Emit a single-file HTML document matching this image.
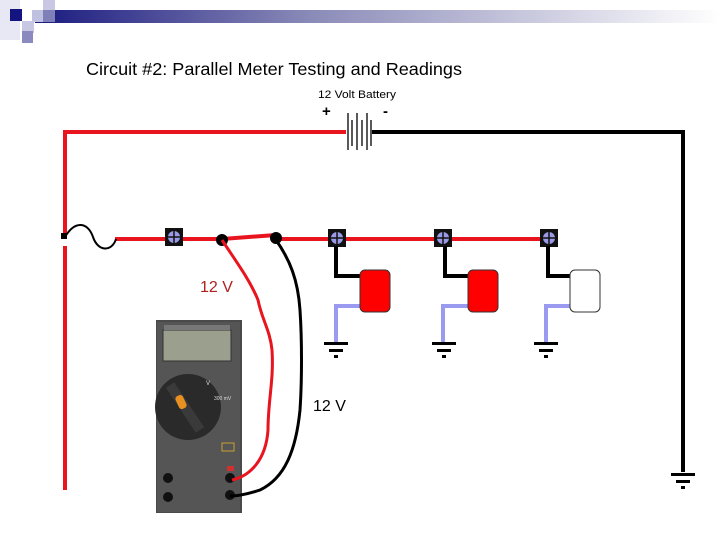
<!DOCTYPE html>
<html><head><style>
html,body{margin:0;padding:0;background:#fff;width:720px;height:540px;overflow:hidden}
</style></head><body>
<svg width="720" height="540" viewBox="0 0 720 540" xmlns="http://www.w3.org/2000/svg">
<defs>
<linearGradient id="g" x1="0" x2="1" y1="0" y2="0">
<stop offset="0" stop-color="#1a1a80"/><stop offset="0.4" stop-color="#8a8ab8"/><stop offset="1" stop-color="#ffffff"/>
</linearGradient>
<g id="term"><rect x="-9" y="-9" width="18" height="18" fill="#111"/><circle r="6" fill="#9a9ae8"/><path d="M-6 0H6M0 -6V6" stroke="#111" stroke-width="1.5"/></g>
<g id="gnd" fill="#000"><rect x="-12" y="-2" width="24" height="3"/><rect x="-7" y="5" width="14" height="3"/><rect x="-2" y="11" width="4" height="3"/></g>
</defs>
<!-- header -->
<rect x="35" y="10" width="685" height="13" fill="url(#g)"/>
<rect x="0" y="0" width="20" height="40" fill="#e8e8f4"/>
<rect x="10" y="9" width="12" height="12" fill="#141480"/>
<rect x="32" y="10" width="12" height="12" fill="#c0c0e0"/>
<rect x="43" y="0" width="12" height="10" fill="#c8c8e4"/>
<rect x="43" y="10" width="12" height="12" fill="#8080b8"/>
<rect x="22" y="21" width="12" height="12" fill="#c8c8e4"/>
<rect x="22" y="31" width="11" height="12" fill="#8a8ac0"/>
<text x="86" y="75" font-family="Liberation Sans, sans-serif" font-size="17.6" fill="#000" textLength="376" lengthAdjust="spacingAndGlyphs">Circuit #2: Parallel Meter Testing and Readings</text>
<text x="318" y="98" font-family="Liberation Sans, sans-serif" font-size="11" fill="#000" textLength="78" lengthAdjust="spacingAndGlyphs">12 Volt Battery</text>
<text x="322" y="116" font-family="Liberation Sans, sans-serif" font-size="15" font-weight="bold">+</text>
<text x="383" y="116" font-family="Liberation Sans, sans-serif" font-size="15" font-weight="bold">-</text>
<!-- main wires -->
<path d="M65 490V132H346" stroke="#e8141e" stroke-width="4" fill="none"/>
<path d="M372 132H683V472" stroke="#000" stroke-width="4" fill="none"/>
<g stroke="#000" stroke-width="1.3"><path d="M348 113V150M352 120V146M357 113V150M362 120V146M367 113V150M371 120V146"/></g>
<use href="#gnd" x="683" y="475"/>
<!-- bus -->
<path d="M115 239H222L276 235" stroke="#e8141e" stroke-width="4" fill="none"/>
<path d="M276 239H555" stroke="#e8141e" stroke-width="4" fill="none"/>
<rect x="62" y="234" width="6" height="12" fill="#fff"/>
<path d="M65 237C75 220 88 222 93 237C98 252 112 252 116 239" stroke="#000" stroke-width="2" fill="none"/>
<rect x="61" y="233" width="6" height="6" fill="#000"/>
<use href="#term" x="174" y="237"/>
<use href="#term" x="337" y="238"/>
<use href="#term" x="443" y="238"/>
<use href="#term" x="549" y="238"/>
<circle cx="222" cy="240" r="6" fill="#000"/>
<circle cx="276" cy="238" r="6" fill="#000"/>
<!-- loads -->
<g stroke-width="4" fill="none">
<path d="M336 246V276H362" stroke="#000"/><path d="M362 306H336V342" stroke="#9a9af0"/>
<path d="M445 246V276H470" stroke="#000"/><path d="M470 306H443V342" stroke="#9a9af0"/>
<path d="M548 246V276H572" stroke="#000"/><path d="M572 306H546V342" stroke="#9a9af0"/>
</g>
<rect x="360" y="270" width="30" height="42" rx="5" fill="#ff0000" stroke="#333"/>
<rect x="468" y="270" width="30" height="42" rx="5" fill="#ff0000" stroke="#333"/>
<rect x="570" y="270" width="30" height="42" rx="5" fill="#fff" stroke="#333"/>
<use href="#gnd" x="336" y="344"/>
<use href="#gnd" x="444" y="344"/>
<use href="#gnd" x="546" y="344"/>
<!-- meter -->
<rect x="156" y="320" width="86" height="193" fill="#4a4a4a"/>
<rect x="157" y="322" width="83" height="190" fill="#555"/>
<rect x="163" y="330" width="68" height="31" fill="#9a9f8e" stroke="#333"/>
<rect x="164" y="325" width="66" height="5" fill="#777"/>
<circle cx="188" cy="407" r="33" fill="#2a2a2a"/>
<path d="M170 385L200 430" stroke="#3a3a3a" stroke-width="10"/>
<rect x="177" y="395" width="8" height="14" rx="3" fill="#e89020" transform="rotate(-25 181 402)"/>
<text x="206" y="385" font-size="6" fill="#ddd" font-family="Liberation Sans,sans-serif">V</text>
<text x="214" y="400" font-size="5" fill="#ddd" font-family="Liberation Sans,sans-serif">300 mV</text>
<rect x="222" y="443" width="12" height="8" fill="none" stroke="#c8a030"/>
<circle cx="168" cy="478" r="5" fill="#111"/><circle cx="168" cy="497" r="5" fill="#111"/>
<circle cx="230" cy="478" r="5" fill="#111"/><circle cx="230" cy="495" r="5" fill="#111"/>
<rect x="227" y="466" width="7" height="5" fill="#d03030"/>
<!-- leads -->
<path d="M222 240C235 260 250 280 258 300C262 320 270 330 272 350C274 380 268 400 268 430C266 460 250 476 232 480" stroke="#e8141e" stroke-width="3" fill="none"/>
<path d="M276 240C290 260 298 280 300 310C302 340 302 380 300 410C296 450 285 478 260 490C248 494 238 496 230 496" stroke="#000" stroke-width="3" fill="none"/>
<text x="200" y="292" font-family="Liberation Sans, sans-serif" font-size="16" fill="#b02020">12 V</text>
<text x="313" y="411" font-family="Liberation Sans, sans-serif" font-size="16" fill="#000">12 V</text>
</svg>
</body></html>
